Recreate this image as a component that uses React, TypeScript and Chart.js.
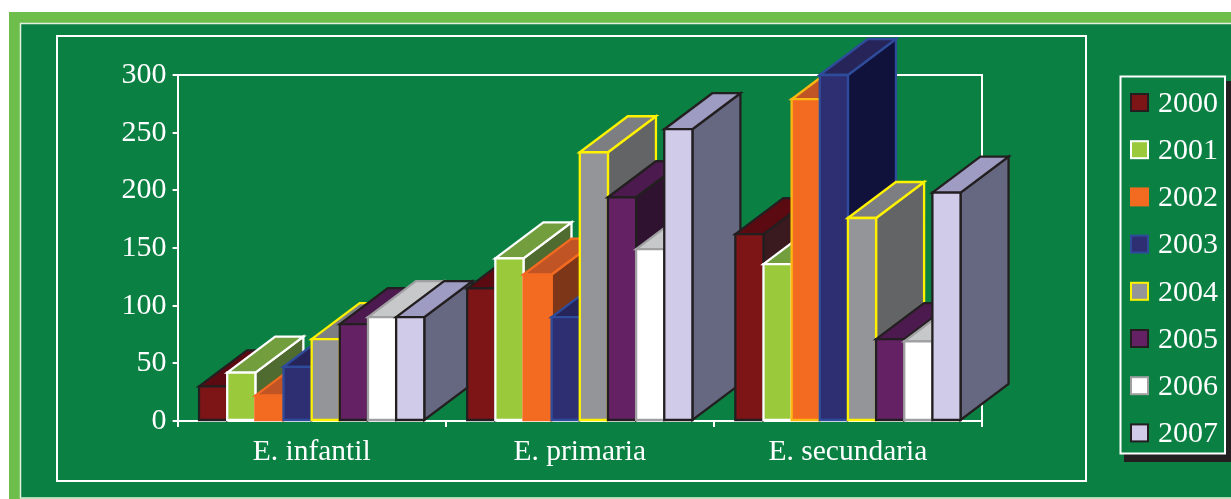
import React, { useEffect, useRef } from "react";
import { Chart, registerables } from "chart.js";

Chart.register(...registerables);

const levels = ["E. infantil", "E. primaria", "E. secundaria"];
const years = ["2000", "2001", "2002", "2003", "2004", "2005", "2006", "2007"];

const values2000 = [30, 115, 162];
const values2001 = [42, 141, 136];
const values2002 = [22, 127, 279];
const values2003 = [47, 90, 300];
const values2004 = [71, 233, 176];
const values2005 = [84, 194, 71];
const values2006 = [90, 149, 69];
const values2007 = [90, 253, 198];
const seriesValues = [values2000, values2001, values2002, values2003, values2004, values2005, values2006, values2007];

const frontColors = ["#7D1416", "#9ACA3C", "#F36A21", "#2E2E73", "#939598", "#642265", "#FFFFFF", "#CFCBE8"];
const topColors = ["#5A0A10", "#729E3E", "#C05425", "#262459", "#7D7E81", "#4C1A4E", "#C7C8CA", "#9E9CC2"];
const sideColors = ["#3A1A1E", "#4F6B2F", "#7E3618", "#10123C", "#636466", "#2E1230", "#8F9092", "#666780"];
const edgeColors = [
  ["#231F20", "#231F20", "#231F20"],
  ["#FFFFFF", "#FFFFFF", "#FFFFFF"],
  ["#F36A21", "#F36A21", "#FDB913"],
  ["#2F4C9B", "#2F4C9B", "#2F4C9B"],
  ["#FFF200", "#FFF200", "#FFF200"],
  ["#231F20", "#231F20", "#231F20"],
  ["#A0A0A2", "#A0A0A2", "#A0A0A2"],
  ["#231F20", "#231F20", "#231F20"],
];
const legendEdges = ["#231F20", "#FFFFFF", "#F36A21", "#2F4C9B", "#FFF200", "#231F20", "#A0A0A2", "#231F20"];

const DEPTH_X = 48;
const DEPTH_Y = 36;
const EDGE = 2.3;
const WHITE = "#FFFFFF";
const PANEL = "#0A8043";
const RIM = "#6DBE4B";
const FONT = '30px "Liberation Serif"';

function polygon(ctx: CanvasRenderingContext2D, pts: number[][], fill: string, stroke: string) {
  ctx.beginPath();
  pts.forEach(([x, y], i) => (i ? ctx.lineTo(x, y) : ctx.moveTo(x, y)));
  ctx.closePath();
  ctx.fillStyle = fill;
  ctx.fill();
  ctx.lineWidth = EDGE;
  ctx.lineJoin = "miter";
  ctx.strokeStyle = stroke;
  ctx.stroke();
}

// Page frame: rim, thin white line, panel and inner white rectangle.
const framePlugin = {
  id: "frame",
  beforeDraw(chart: any) {
    const ctx = chart.ctx as CanvasRenderingContext2D;
    ctx.save();
    ctx.fillStyle = RIM;
    ctx.fillRect(9, 12, 1222, 487);
    ctx.fillStyle = PANEL;
    ctx.fillRect(20, 23, 1211, 475);
    ctx.strokeStyle = "#E4F0E0";
    ctx.lineWidth = 1.5;
    ctx.beginPath();
    ctx.moveTo(1231, 498);
    ctx.lineTo(20.5, 498);
    ctx.lineTo(20.5, 23.5);
    ctx.lineTo(1231, 23.5);
    ctx.stroke();
    ctx.strokeStyle = WHITE;
    ctx.lineWidth = 2;
    ctx.strokeRect(57, 36, 1029, 445);
    ctx.restore();
  },
};

// Extruded bars: each one gets a side and a top face behind its front face,
// painted category by category so nearer bars cover the ones behind.
const boxesPlugin = {
  id: "boxes",
  beforeDatasetsDraw(chart: any) {
    const ctx = chart.ctx as CanvasRenderingContext2D;
    const { left, right, top, bottom } = chart.chartArea;
    ctx.save();
    ctx.strokeStyle = WHITE;
    ctx.lineWidth = 2;
    ctx.beginPath();
    ctx.moveTo(left, top);
    ctx.lineTo(right, top);
    ctx.lineTo(right, bottom);
    ctx.stroke();
    levels.forEach((_, c) => {
      chart.data.datasets.forEach((_d: any, s: number) => {
        const bar = chart.getDatasetMeta(s).data[c];
        const { x, y, base, width } = bar.getProps(["x", "y", "base", "width"], true);
        const l = x - width / 2;
        const r = x + width / 2;
        const edge = edgeColors[s][c];
        polygon(ctx, [[r, y], [r + DEPTH_X, y - DEPTH_Y], [r + DEPTH_X, base - DEPTH_Y], [r, base]], sideColors[s], edge);
        polygon(ctx, [[l, y], [l + DEPTH_X, y - DEPTH_Y], [r + DEPTH_X, y - DEPTH_Y], [r, y]], topColors[s], edge);
        polygon(ctx, [[l, y], [r, y], [r, base], [l, base]], frontColors[s], edge);
      });
    });
    ctx.restore();
    return false;
  },
};

// Boxed legend on the right, with a hard drop shadow.
const legendPlugin = {
  id: "boxedLegend",
  afterDraw(chart: any) {
    const ctx = chart.ctx as CanvasRenderingContext2D;
    ctx.save();
    ctx.fillStyle = "#231F20";
    ctx.fillRect(1124, 81, 107, 381);
    ctx.fillStyle = PANEL;
    ctx.fillRect(1120, 76, 105, 377);
    ctx.strokeStyle = WHITE;
    ctx.lineWidth = 2;
    ctx.strokeRect(1120.5, 76.5, 104.5, 377);
    ctx.font = FONT;
    ctx.textBaseline = "middle";
    ctx.textAlign = "left";
    chart.data.datasets.forEach((d: any, i: number) => {
      const cy = 103 + i * 47.2;
      ctx.fillStyle = frontColors[i];
      ctx.fillRect(1131, cy - 9, 17, 17);
      ctx.strokeStyle = legendEdges[i];
      ctx.lineWidth = 2;
      ctx.strokeRect(1131, cy - 9, 17, 17);
      ctx.fillStyle = WHITE;
      ctx.fillText(d.label, 1158, cy + 1);
    });
    ctx.restore();
  },
};

export default function App() {
  const ref = useRef<HTMLCanvasElement>(null);
  useEffect(() => {
    const chart = new Chart(ref.current!, {
      type: "bar",
      data: {
        labels: levels,
        datasets: years.map((label, i) => ({
          label,
          data: seriesValues[i],
          backgroundColor: frontColors[i],
          borderColor: edgeColors[i],
          borderWidth: EDGE,
          categoryPercentage: 0.84,
          barPercentage: 1,
        })),
      },
      options: {
        animation: false,
        responsive: false,
        layout: { padding: { left: 0, top: 75, right: 249, bottom: 0 } },
        plugins: { legend: { display: false }, tooltip: { enabled: false } },
        scales: {
          x: {
            z: 1,
            afterFit: (s: any) => { s.height = 78; },
            grid: { drawOnChartArea: false, color: WHITE, tickLength: 6, lineWidth: 2 },
            border: { color: WHITE, width: 2 },
            ticks: { color: WHITE, font: { family: "Liberation Serif", size: 29.5 }, padding: 8, maxRotation: 0 },
          },
          y: {
            z: 1,
            min: 0,
            max: 300,
            afterFit: (s: any) => { s.width = 177.6; },
            grid: { drawOnChartArea: false, color: WHITE, tickLength: 5, lineWidth: 2 },
            border: { color: WHITE, width: 2 },
            ticks: { stepSize: 50, color: WHITE, font: { family: "Liberation Serif", size: 30 }, padding: 6 },
          },
        },
      },
      plugins: [framePlugin, boxesPlugin, legendPlugin],
    } as any);
    return () => chart.destroy();
  }, []);
  return (
    <div style={{ position: "absolute", left: 0, top: 0, width: 1231, height: 499, background: "#FFFFFF" }}>
      <canvas ref={ref} width={1231} height={499} style={{ display: "block" }} />
    </div>
  );
}
